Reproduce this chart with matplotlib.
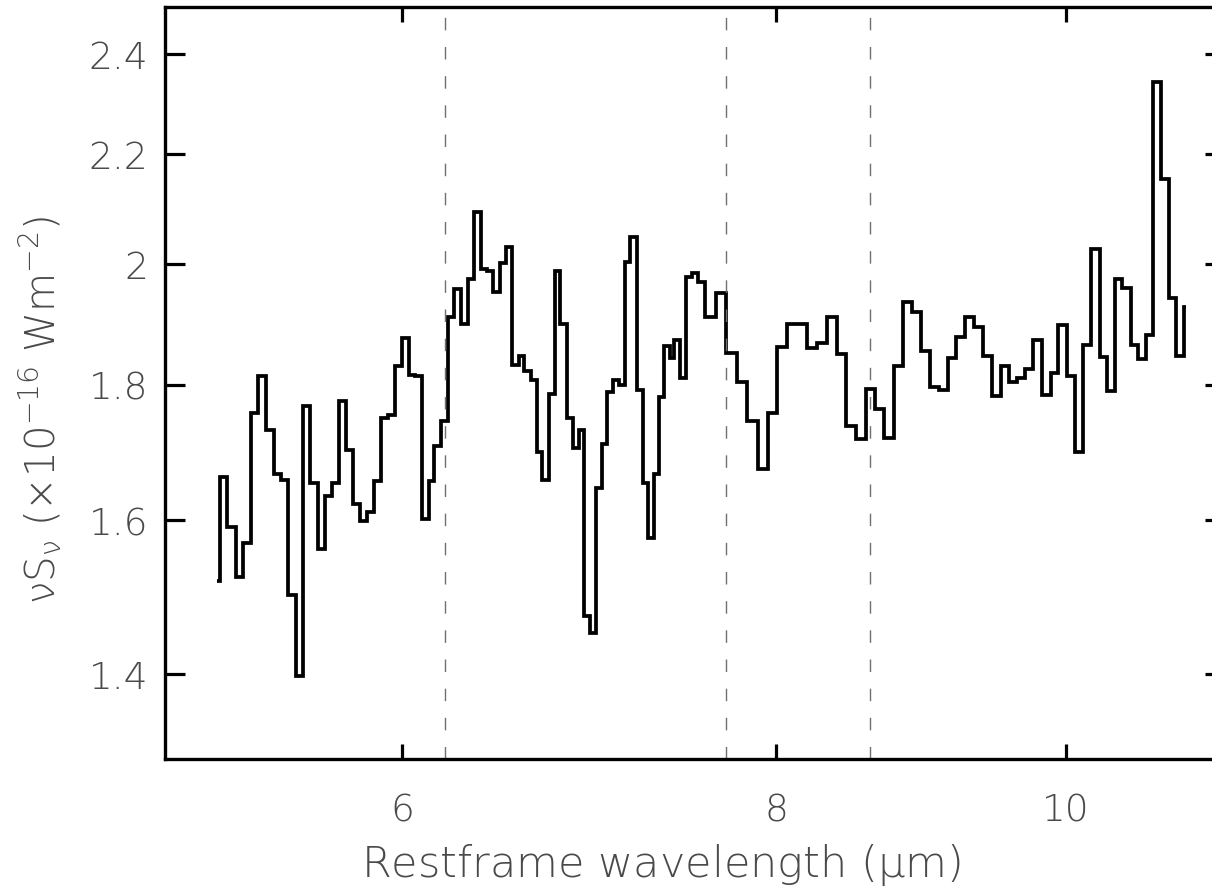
import numpy as np
import matplotlib
matplotlib.use("Agg")
import matplotlib.pyplot as plt
from matplotlib.ticker import FixedLocator, FixedFormatter, NullLocator

# restframe wavelength bin edges (micron)
wave_edges = [
    5.205, 5.215, 5.246, 5.280, 5.310, 5.344, 5.371, 5.406, 5.436, 5.468,
    5.496, 5.529, 5.560, 5.592, 5.624, 5.656, 5.686, 5.716, 5.748, 5.779,
    5.810, 5.841, 5.871, 5.904, 5.935, 5.968, 5.999, 6.034, 6.062, 6.091,
    6.124, 6.150, 6.182, 6.214, 6.246, 6.281, 6.313, 6.342, 6.375, 6.407,
    6.437, 6.470, 6.498, 6.532, 6.565, 6.590, 6.624, 6.658, 6.684, 6.718,
    6.747, 6.778, 6.813, 6.842, 6.874, 6.904, 6.936, 6.968, 6.998, 7.025,
    7.058, 7.088, 7.121, 7.152, 7.189, 7.220, 7.248, 7.281, 7.309, 7.337,
    7.371, 7.399, 7.432, 7.466, 7.499, 7.537, 7.576, 7.640, 7.699, 7.762,
    7.825, 7.888, 7.952, 8.008, 8.069, 8.131, 8.194, 8.257, 8.321, 8.385,
    8.445, 8.506, 8.571, 8.631, 8.690, 8.757, 8.820, 8.884, 8.946, 9.007,
    9.067, 9.130, 9.189, 9.255, 9.319, 9.378, 9.443, 9.512, 9.567, 9.629,
    9.690, 9.752, 9.820, 9.883, 9.941, 10.010, 10.069, 10.134, 10.196, 10.262,
    10.317, 10.381, 10.441, 10.509, 10.568, 10.630, 10.692, 10.758, 10.822, 10.886,
    10.953, 10.964,
]

# nu S_nu in units of 1e-16 W m^-2
flux = [
    1.517, 1.661, 1.590, 1.523, 1.568, 1.757, 1.813, 1.731, 1.665, 1.657,
    1.499, 1.397, 1.767, 1.653, 1.560, 1.634, 1.652, 1.774, 1.700, 1.623,
    1.599, 1.612, 1.656, 1.748, 1.753, 1.829, 1.875, 1.815, 1.813, 1.602,
    1.655, 1.706, 1.744, 1.910, 1.956, 1.898, 1.973, 2.092, 1.991, 1.988,
    1.952, 2.001, 2.029, 1.831, 1.845, 1.821, 1.808, 1.698, 1.657, 1.786,
    1.987, 1.898, 1.749, 1.704, 1.730, 1.472, 1.450, 1.646, 1.709, 1.789,
    1.808, 1.799, 2.003, 2.046, 1.792, 1.653, 1.576, 1.666, 1.781, 1.862,
    1.843, 1.872, 1.811, 1.977, 1.983, 1.968, 1.909, 1.949, 1.851, 1.805,
    1.744, 1.673, 1.757, 1.860, 1.898, 1.898, 1.859, 1.867, 1.909, 1.848,
    1.736, 1.717, 1.793, 1.762, 1.719, 1.830, 1.934, 1.918, 1.854, 1.797,
    1.792, 1.843, 1.876, 1.909, 1.893, 1.845, 1.782, 1.830, 1.805, 1.811,
    1.825, 1.872, 1.784, 1.819, 1.896, 1.813, 1.698, 1.863, 2.026, 1.844,
    1.791, 1.973, 1.958, 1.864, 1.840, 1.880, 2.342, 2.152, 1.941, 1.845,
    1.926,
]

# PAH feature positions
pah_lines = [6.2, 7.7, 8.6]

xticks = [6, 8, 10]
xticklabels = ['6', '8', '10']
yticks = [1.4, 1.6, 1.8, 2.0, 2.2, 2.4]
yticklabels = ['1.4', '1.6', '1.8', '2', '2.2', '2.4']

txt_col = '#4a4a4a'
plt.rcParams['font.family'] = ['DejaVu Sans']
plt.rcParams['mathtext.default'] = 'regular'

fig = plt.figure(figsize=(12.12, 8.87), dpi=100)
ax = fig.add_axes([0.1361, 0.1432, 0.8746, 0.8478])

ax.stairs(flux, wave_edges, baseline=None, color='black', linewidth=2.7)

for w in pah_lines:
    ax.axvline(w, color='#707070', linewidth=1.0, dashes=(9, 12))

ax.set_xscale('log')
ax.set_yscale('log')
ax.set_xlim(5.0, 11.3)
ax.set_ylim(1.3, 2.5)

ax.xaxis.set_major_locator(FixedLocator(xticks))
ax.xaxis.set_major_formatter(FixedFormatter(xticklabels))
ax.xaxis.set_minor_locator(NullLocator())
ax.yaxis.set_major_locator(FixedLocator(yticks))
ax.yaxis.set_major_formatter(FixedFormatter(yticklabels))
ax.yaxis.set_minor_locator(NullLocator())

ax.tick_params(axis='both', direction='in', width=2.3, color='black',
               labelsize=27, labelcolor=txt_col, top=True, right=True)
ax.tick_params(axis='x', length=11, pad=24)
ax.tick_params(axis='y', length=14.5, pad=12)
for lab in ax.get_xticklabels() + ax.get_yticklabels():
    lab.set_fontweight(200)

for s in ax.spines.values():
    s.set_linewidth(2.4)

fig.text(661 / 1212, 1 - 865 / 887, r'Restframe wavelength ($\mu$m)',
         ha='center', va='center', fontsize=31, color=txt_col, fontweight=200)
fig.text(40 / 1212, 1 - 410 / 887, r'$\nu S_{\nu}$ ($\times10^{-16}$ Wm$^{-2}$)',
         ha='center', va='center', rotation=90, fontsize=29, color=txt_col,
         fontweight=200)

fig.savefig('out.png', dpi=100)
